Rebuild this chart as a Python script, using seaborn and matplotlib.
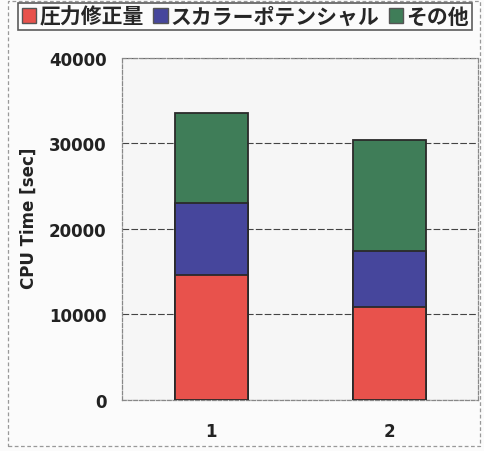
import matplotlib
matplotlib.use("Agg")
import matplotlib.pyplot as plt
import seaborn as sns
import pandas as pd
import numpy as np
from matplotlib.patches import Patch, Rectangle

categories = ["1", "2"]
series_names = ["圧力修正量", "スカラーポテンシャル", "その他"]
pressure = [14600, 10900]
scalar = [8400, 6500]
other = [10500, 13000]
colors = ["#e8524c", "#46469c", "#3f7d58"]
yticks = [0, 10000, 20000, 30000, 40000]

sns.set_theme(style="white")
plt.rcParams['font.family'] = ['DejaVu Sans', 'Noto Sans CJK JP']

fig = plt.figure(figsize=(4.84, 4.52), dpi=100)
fig.patch.set_facecolor("#fbfbfb")
ax = fig.add_axes([0.252, 0.113, 0.736, 0.757])
ax.set_facecolor("#f6f6f6")

c1 = np.array(pressure)
c2 = c1 + np.array(scalar)
c3 = c2 + np.array(other)
layers = [c3, c2, c1]
layer_colors = [colors[2], colors[1], colors[0]]
for vals, col in zip(layers, layer_colors):
    df = pd.DataFrame({"cat": categories, "val": vals})
    sns.barplot(data=df, x="cat", y="val", color=col, width=0.41,
                edgecolor="#2a2a2a", linewidth=1.3, saturation=1, ax=ax, zorder=3)

ax.set_ylim(0, 40000)
ax.set_xlim(-0.5, 1.5)
ax.set_yticks(yticks)
ax.set_yticklabels([str(v) for v in yticks], fontsize=12, fontweight="bold", color="#222222")
ax.set_xticklabels(categories, fontsize=12, fontweight="bold", color="#222222")
ax.tick_params(axis="y", pad=11, length=0)
ax.tick_params(axis="x", pad=16, length=0)
ax.set_xlabel("")
ax.set_ylabel("CPU Time [sec]", fontsize=12, fontweight="bold", color="#222222", labelpad=4)
ax.yaxis.set_label_coords(-0.235, 0.535)
ax.yaxis.grid(True, color="#444444", linestyle=(0, (6, 2)), linewidth=0.8, zorder=0)
ax.set_axisbelow(True)
for s in ax.spines.values():
    s.set_color("#888888")
    s.set_linestyle((0, (3, 1.5)))
    s.set_linewidth(0.9)

fig.patches.append(Rectangle((0.0165, 0.011), 0.975, 0.984, transform=fig.transFigure,
                             fill=False, edgecolor="#999999", linewidth=0.9,
                             linestyle=(0, (3, 2)), zorder=0))

handles = [Patch(facecolor=c, edgecolor="#555555", linewidth=1.0) for c in colors]
leg = fig.legend(handles, series_names, loc="upper center", bbox_to_anchor=(0.507, 0.992),
                 ncol=3, frameon=True, fancybox=False, edgecolor="#333333",
                 handlelength=0.7, handleheight=0.7, handletextpad=0.15,
                 columnspacing=0.45, borderpad=0.15, borderaxespad=0.0,
                 prop={"family": ["Noto Sans CJK JP"], "weight": "bold", "size": 15})
leg.get_frame().set_linewidth(1.2)
leg.get_frame().set_facecolor("#fbfbfb")

fig.savefig("out.png", dpi=100, facecolor=fig.get_facecolor())
